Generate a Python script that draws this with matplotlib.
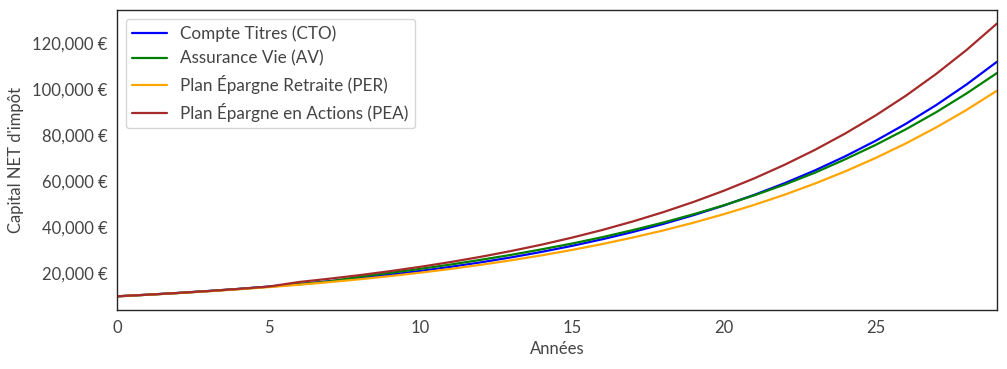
import numpy as np
import matplotlib
matplotlib.use("Agg")
import matplotlib.pyplot as plt
import seaborn as sns
from matplotlib.ticker import FuncFormatter

years = list(range(30))

cto = [10000, 10700, 11460, 12300, 13220, 14240, 15360, 16580, 17930, 19410,
       21050, 22840, 24810, 26970, 29350, 31970, 34850, 38010, 41480, 45310,
       49510, 54130, 59200, 64780, 70920, 77660, 85080, 93230, 102190, 112040]

av = [10000, 10680, 11440, 12270, 13180, 14170, 15250, 16450, 18530, 20210,
      21950, 23840, 25910, 28070, 30450, 32970, 35750, 38810, 42080, 45710,
      49610, 53930, 58600, 63780, 69620, 75860, 82680, 90130, 98290, 107140]

per = [10000, 10660, 11390, 12180, 13050, 14000, 15050, 16190, 17430, 18800,
       20300, 21930, 23730, 25690, 27840, 30190, 32760, 35580, 38660, 42040,
       45740, 49780, 54210, 59060, 64370, 70180, 76540, 83500, 91120, 99470]

pea = [10000, 10700, 11460, 12300, 13220, 14240, 16230, 17660, 19220, 20950,
       22840, 24930, 27220, 29740, 32500, 35550, 38890, 42570, 46610, 51060,
       55940, 61310, 67220, 73710, 80840, 88680, 97300, 106790, 117200, 128660]

series = [
    ("Compte Titres (CTO)", cto, "blue"),
    ("Assurance Vie (AV)", av, "green"),
    ("Plan Épargne Retraite (PER)", per, "orange"),
    ("Plan Épargne en Actions (PEA)", pea, "brown"),
]

sns.set_style("white")
plt.rcParams["font.family"] = ["Lato", "DejaVu Sans"]

fig = plt.figure(figsize=(10.07, 3.69), dpi=100)
ax = fig.add_axes([0.1162, 0.160, 0.8738, 0.813])

for label, vals, color in series:
    ax.plot(years, vals, color=color, lw=1.6, label=label)

ax.set_xlim(0, 29)
ax.set_xticks([0, 5, 10, 15, 20, 25])
ax.set_yticks([20000, 40000, 60000, 80000, 100000, 120000])
ax.yaxis.set_major_formatter(FuncFormatter(lambda v, p: f"{v:,.0f} €"))
ax.tick_params(labelsize=12, colors="#444444")
ax.set_xlabel("Années", fontsize=12, color="#444444")
ax.set_ylabel("Capital NET d'impôt", fontsize=12, color="#444444", labelpad=6)
for s in ax.spines.values():
    s.set_color("#262626")
    s.set_linewidth(1.0)

leg = ax.legend(loc="upper left", fontsize=12.3, frameon=True)
for t in leg.get_texts():
    t.set_color("#444444")

fig.savefig("out.png", dpi=100)
